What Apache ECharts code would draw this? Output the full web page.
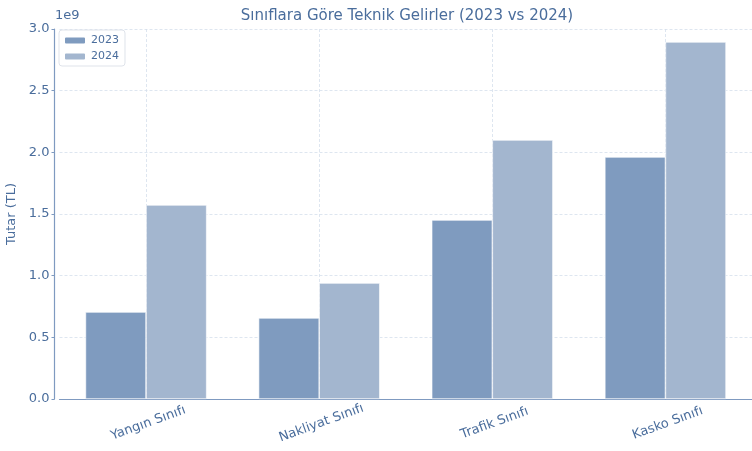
<!DOCTYPE html>
<html>
<head>
<meta charset="utf-8">
<script src="https://cdn.jsdelivr.net/npm/echarts@6/dist/echarts.min.js"></script>
<style>
  html, body { margin: 0; padding: 0; background: #fff; }
  #chart { width: 752px; height: 451px; }
</style>
</head>
<body>
<div id="chart"></div>
<script>
// kategoriler ve degerler (TL)
var categories = ['Yangın Sınıfı', 'Nakliyat Sınıfı', 'Trafik Sınıfı', 'Kasko Sınıfı'];
var values2023 = [0.705e9, 0.657e9, 1.451e9, 1.962e9];
var values2024 = [1.573e9, 0.94e9, 2.10e9, 2.895e9];
var yTicks = [0, 0.5e9, 1.0e9, 1.5e9, 2.0e9, 2.5e9, 3.0e9];

var textColor = '#4a6d9c';
var axisColor = '#7f9ac0';
var gridColor = '#d6dfec';

var myChart = echarts.init(document.getElementById('chart'));
myChart.setOption({
    animation: false,
    title: {
        text: 'Sınıflara Göre Teknik Gelirler (2023 vs 2024)',
        left: 402,
        top: 4,
        textAlign: 'center',
        textStyle: { fontFamily: 'DejaVu Sans', fontSize: 15, fontWeight: 'normal', color: textColor }
    },
    graphic: [{
        type: 'text',
        left: 55,
        top: 9,
        style: { text: '1e9', font: '13px DejaVu Sans', fill: textColor }
    }],
    legend: {
        orient: 'vertical',
        left: 59,
        top: 30,
        padding: [5, 6, 4, 4],
        itemGap: 5,
        itemWidth: 22,
        itemHeight: 8,
        borderColor: '#dfe3ea',
        borderWidth: 1,
        borderRadius: 3,
        textStyle: { fontFamily: 'DejaVu Sans', fontSize: 11, color: textColor },
        data: ['2023', '2024']
    },
    grid: { left: 59.5, right: 0, top: 29, bottom: 52, containLabel: false, outerBoundsMode: 'none' },
    xAxis: {
        type: 'category',
        data: categories,
        axisLine: { lineStyle: { color: axisColor, width: 1.2 } },
        axisTick: { show: false },
        axisLabel: {
            rotate: 20,
            align: 'center',
            verticalAlign: 'top',
            margin: 18,
            fontFamily: 'DejaVu Sans',
            fontSize: 13,
            color: textColor
        },
        splitLine: { show: true, alignWithLabel: true, lineStyle: { color: gridColor, type: [3, 2], width: 0.8 } }
    },
    yAxis: {
        type: 'value',
        min: 0,
        max: 3.0e9,
        interval: 0.5e9,
        offset: 5,
        name: 'Tutar (TL)',
        nameLocation: 'middle',
        nameGap: 27,
        nameTextStyle: { fontFamily: 'DejaVu Sans', fontSize: 13, color: textColor },
        axisLine: { show: true, lineStyle: { color: axisColor, width: 1.2 } },
        axisTick: { show: true, length: 3, lineStyle: { color: axisColor } },
        axisLabel: {
            margin: 5,
            fontFamily: 'DejaVu Sans',
            fontSize: 13,
            color: textColor,
            formatter: function (v) { return (v / 1e9).toFixed(1); }
        },
        splitLine: { show: true, lineStyle: { color: gridColor, type: [3, 2], width: 0.8 } }
    },
    series: [{
        name: '2023',
        type: 'bar',
        data: values2023,
        barWidth: '35%',
        barGap: '0%',
        itemStyle: { color: '#7f9bbf', borderColor: '#ffffff', borderWidth: 0.6 }
    }, {
        name: '2024',
        type: 'bar',
        data: values2024,
        barWidth: '35%',
        barGap: '0%',
        itemStyle: { color: '#a3b6cf', borderColor: '#ffffff', borderWidth: 0.6 }
    }]
});
</script>
</body>
</html>
